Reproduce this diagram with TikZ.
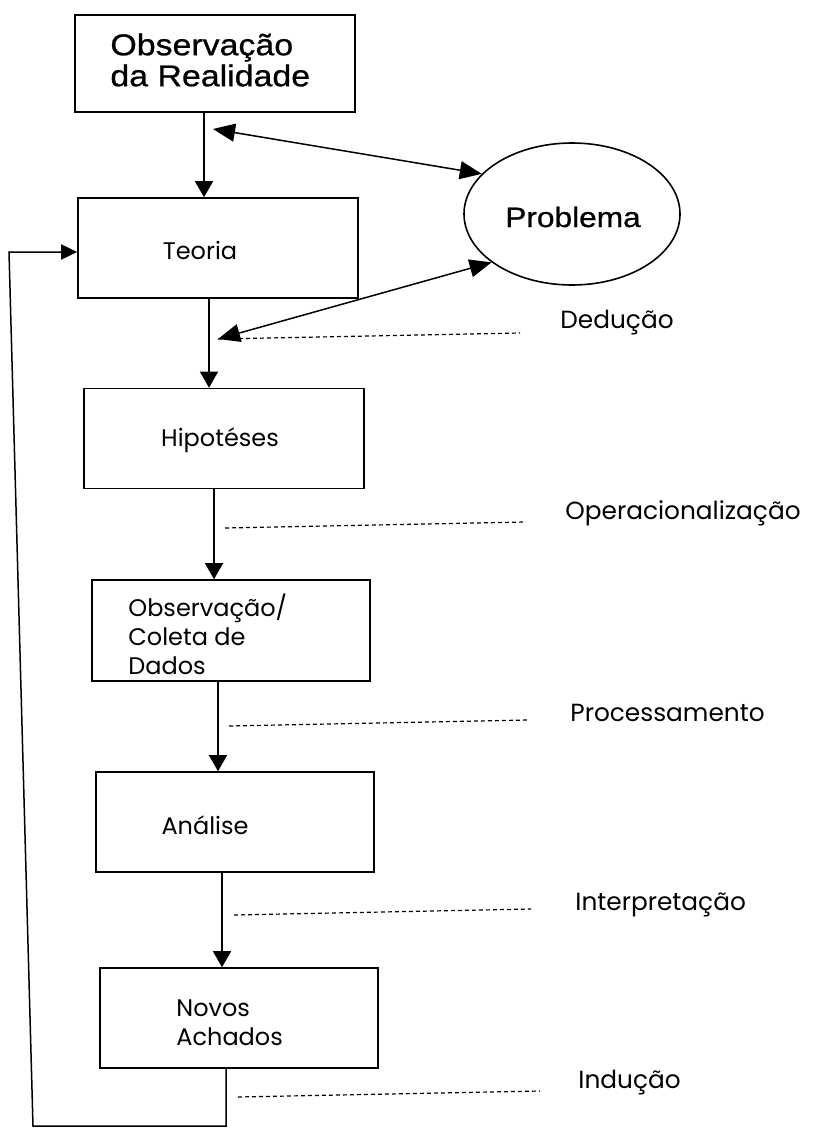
\documentclass[tikz,border=0pt]{standalone}
\usepackage{fontspec}
\usetikzlibrary{arrows.meta,shapes.geometric}
\newfontfamily\arialw[FakeStretch=1.13,FakeBold=0.8]{Liberation Sans}
\newfontfamily\gothic{Poppins}
\begin{document}
\begin{tikzpicture}[x=0.5pt,y=-0.5pt,
  box/.style={draw, line width=0.8pt, minimum width=140pt, minimum height=50pt, inner sep=0pt},
  big/.style={font=\arialw\fontsize{15pt}{15.5pt}\selectfont, inner sep=0pt, align=left},
  lbl/.style={font=\gothic\fontsize{12pt}{14.5pt}\selectfont, inner sep=0pt, align=left},
  side/.style={font=\gothic\fontsize{12.4pt}{14.5pt}\selectfont, inner sep=0pt, anchor=west},
  arr/.style={line width=0.75pt, -{Triangle[length=8pt,width=9pt]}},
  looparr/.style={line width=0.75pt, -{Triangle[length=8pt,width=7.5pt]}},
  darr/.style={line width=0.75pt, {Triangle[length=11pt,width=9pt]}-{Triangle[length=11pt,width=9pt]}},
  dsh/.style={line width=0.6pt, dash pattern=on 2pt off 1.5pt},
]
\useasboundingbox (0,0) rectangle (819,1129);

% boxes
\node[box, minimum height=48.5pt] (box1) at (215,63.5) {};
\node[box] (teoria) at (218,248) {};
\node[box] (hip) at (224,438.5) {};
\node[box, minimum width=139pt, minimum height=50.5pt] (obs) at (231,630.5) {};
\node[box, minimum width=139pt] (ana) at (235,822) {};
\node[box, minimum width=139pt] (novos) at (239,1018) {};
\node[draw, ellipse, line width=0.8pt, minimum width=108pt, minimum height=71pt, inner sep=0pt] (prob) at (572,214) {};

% texts
\node[big, anchor=west] (t1) at (110,60) {Observação\\da Realidade};
\node[big, font=\arialw\fontsize{14pt}{14pt}\selectfont] (tp) at (573,217) {Problema};
\node[lbl] (t2) at (200,250) {Teoria};
\node[lbl] (t3) at (220,440) {Hipotéses};
\node[lbl, anchor=west] (t4) at (128,634) {Observação/\\Coleta de\\Dados};
\node[lbl] (t5) at (205,825) {Análise};
\node[lbl, anchor=west] (t6) at (176,1023) {Novos\\Achados};

% side labels
\node[side] (l1) at (560,323) {Dedução};
\node[side] (l2) at (565,513) {Operacionalização};
\node[side] (l3) at (570,713) {Processamento};
\node[side] (l4) at (575,905) {Interpretação};
\node[side] (l5) at (578,1083) {Indução};

% arrow columns
\coordinate (c1) at (204,0);
\coordinate (c2) at (209,0);
\coordinate (c3) at (214,0);
\coordinate (c4) at (218,0);
\coordinate (c5) at (222,0);

\draw[arr] (box1.south -| c1) -- (teoria.north -| c1);
\draw[arr] (teoria.south -| c2) -- (hip.north -| c2);
\draw[arr] (hip.south -| c3) -- (obs.north -| c3);
\draw[arr] (obs.south -| c4) -- (ana.north -| c4);
\draw[arr] (ana.south -| c5) -- (novos.north -| c5);

% feedback loop
\coordinate (lb) at (226,1126);
\coordinate (ll) at (33,1126);
\coordinate (lt) at (9,252);
\draw[looparr] (novos.south -| lb) -- (lb) -- (ll) -- (lt) -- (lt -| teoria.west);

% double arrows to Problema
\coordinate (d1) at (213,129);
\coordinate (d2) at (218,339);
\draw[darr] (d1) -- (prob.156);
\draw[darr] (d2) -- (prob.211);

% dashed lines
\coordinate (e1) at (520,333);
\coordinate (f2a) at (225,528); \coordinate (f2b) at (525,522);
\coordinate (f3a) at (229,726); \coordinate (f3b) at (528,720);
\coordinate (f4a) at (234,915); \coordinate (f4b) at (531,909);
\coordinate (f5a) at (238,1097); \coordinate (f5b) at (540,1091);
\draw[dsh] (d2) -- (e1);
\draw[dsh] (f2a) -- (f2b);
\draw[dsh] (f3a) -- (f3b);
\draw[dsh] (f4a) -- (f4b);
\draw[dsh] (f5a) -- (f5b);
\end{tikzpicture}
\end{document}
